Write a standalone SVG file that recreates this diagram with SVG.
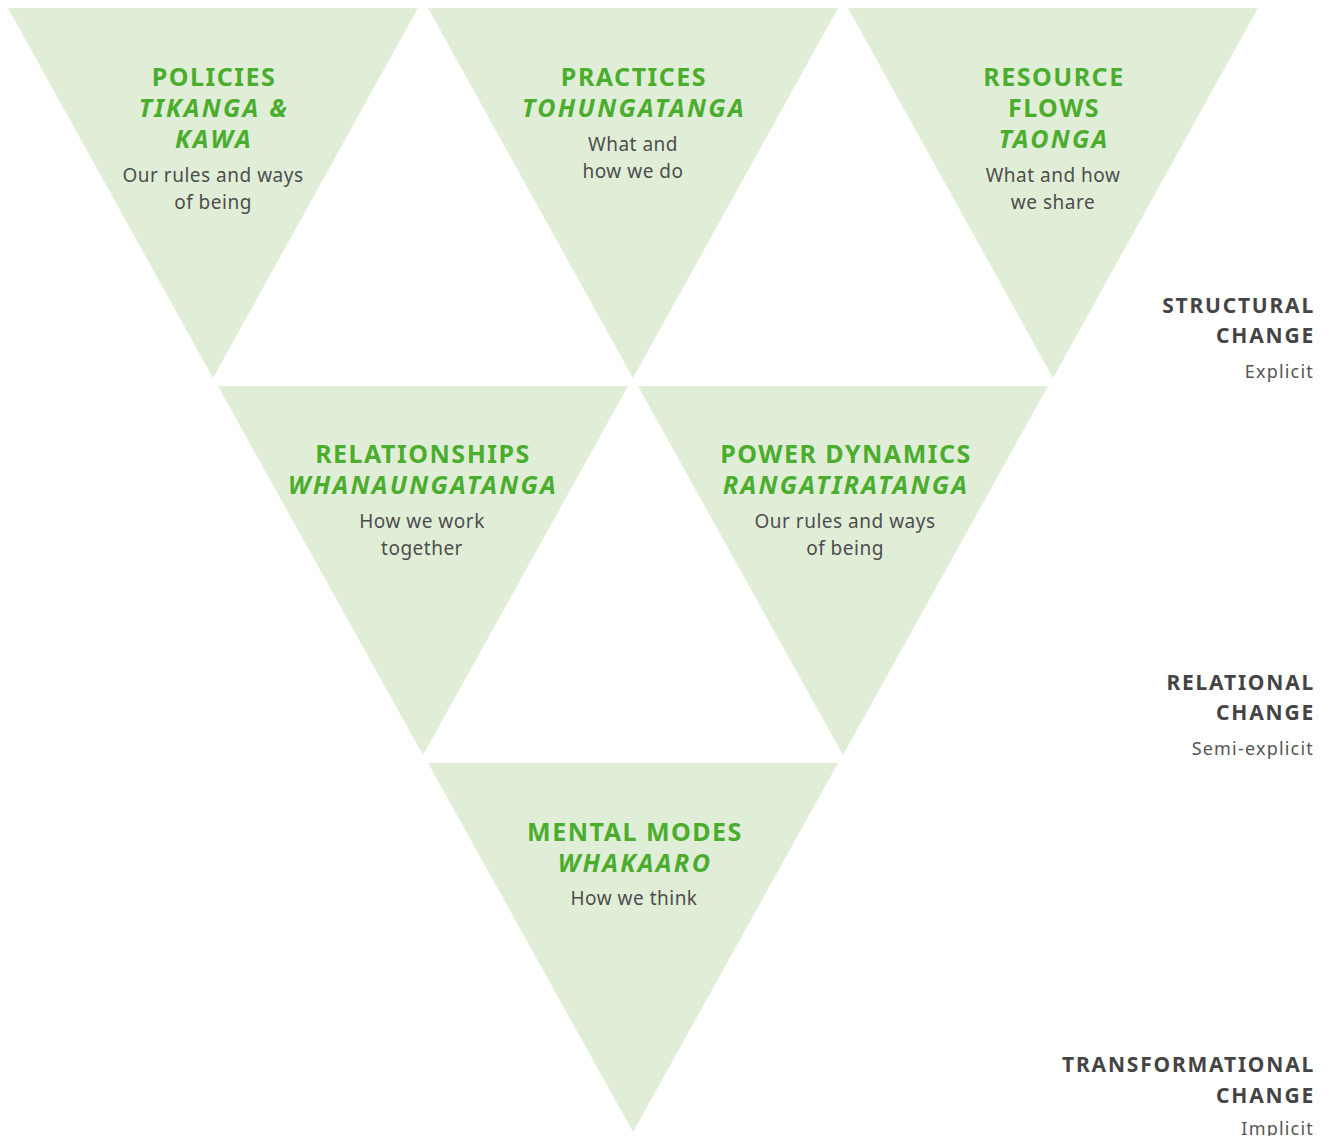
<svg xmlns="http://www.w3.org/2000/svg" width="1330" height="1136" viewBox="0 0 1330 1136">
<style>
.tri{fill:#e1eed7;}
.t{font-family:"Noto Sans","Liberation Sans",sans-serif;font-weight:700;font-size:25px;fill:#4aad2e;text-anchor:middle;letter-spacing:1.5px;}
.i{font-style:italic;letter-spacing:2.3px;}
.b{font-family:"Noto Sans","Liberation Sans",sans-serif;font-weight:400;font-size:19px;fill:#4d4d4d;text-anchor:middle;letter-spacing:0.5px;}
.h{font-family:"Noto Sans","Liberation Sans",sans-serif;font-weight:700;font-size:21px;fill:#444444;text-anchor:end;letter-spacing:1.8px;}
.s{font-family:"Noto Sans","Liberation Sans",sans-serif;font-weight:400;font-size:18px;fill:#555555;text-anchor:end;letter-spacing:1.2px;}
</style>
<rect width="1330" height="1136" fill="#ffffff"/>
<g id="policies">
<polygon class="tri" points="8,8 418,8 213,378"/>
<text class="t" x="214" y="86">POLICIES</text>
<text class="t i" x="214" y="117">TIKANGA &amp;</text>
<text class="t i" x="214" y="148">KAWA</text>
<text class="b" x="213" y="182">Our rules and ways</text>
<text class="b" x="213" y="209">of being</text>
</g>
<g id="practices">
<polygon class="tri" points="428,8 838,8 633,378"/>
<text class="t" x="634" y="86">PRACTICES</text>
<text class="t i" x="634" y="117">TOHUNGATANGA</text>
<text class="b" x="633" y="151">What and</text>
<text class="b" x="633" y="178">how we do</text>
</g>
<g id="resource-flows">
<polygon class="tri" points="848,8 1258,8 1053,378"/>
<text class="t" x="1054" y="86">RESOURCE</text>
<text class="t" x="1054" y="117">FLOWS</text>
<text class="t i" x="1054" y="148">TAONGA</text>
<text class="b" x="1053" y="182">What and how</text>
<text class="b" x="1053" y="209">we share</text>
</g>
<g id="relationships">
<polygon class="tri" points="218,386 628,386 423,755"/>
<text class="t" x="423" y="463">RELATIONSHIPS</text>
<text class="t i" x="423" y="494">WHANAUNGATANGA</text>
<text class="b" x="422" y="528">How we work</text>
<text class="b" x="422" y="555">together</text>
</g>
<g id="power-dynamics">
<polygon class="tri" points="638,386 1048,386 843,755"/>
<text class="t" x="846" y="463">POWER DYNAMICS</text>
<text class="t i" x="846" y="494">RANGATIRATANGA</text>
<text class="b" x="845" y="528">Our rules and ways</text>
<text class="b" x="845" y="555">of being</text>
</g>
<g id="mental-models">
<polygon class="tri" points="428,763 838,763 633,1132"/>
<text class="t" x="635" y="841">MENTAL MODES</text>
<text class="t i" x="635" y="872">WHAKAARO</text>
<text class="b" x="634" y="905">How we think</text>
</g>
<g id="structural">
<text class="h" x="1315" y="313">STRUCTURAL</text>
<text class="h" x="1315" y="343">CHANGE</text>
<text class="s" x="1314" y="378">Explicit</text>
</g>
<g id="relational">
<text class="h" x="1315" y="690">RELATIONAL</text>
<text class="h" x="1315" y="720">CHANGE</text>
<text class="s" x="1314" y="755">Semi-explicit</text>
</g>
<g id="transformational">
<text class="h" x="1315" y="1072">TRANSFORMATIONAL</text>
<text class="h" x="1315" y="1103">CHANGE</text>
<text class="s" x="1314" y="1135">Implicit</text>
</g>
<g id="connectors"></g>
</svg>
